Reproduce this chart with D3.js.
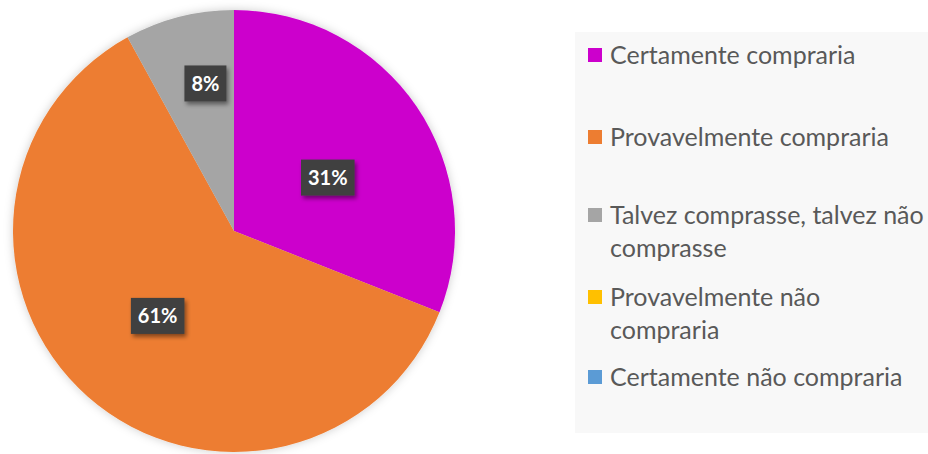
<!DOCTYPE html>
<html>
<head>
<meta charset="utf-8">
<script src="https://cdn.jsdelivr.net/npm/d3@7"></script>
<style>
  body { margin: 0; background: #fff; }
  svg { display: block; }
</style>
</head>
<body>
<div id="chart"></div>
<script>
// data
var categories = ["Certamente compraria", "Provavelmente compraria", "Talvez comprasse, talvez não\ncomprasse", "Provavelmente não\ncompraria", "Certamente não compraria"];
var values = [31, 61, 8, 0, 0];
var colors = ["#cc00cc", "#ed7d31", "#a5a5a5", "#ffc000", "#5b9bd5"];

// chart setup
var svgWidth = 928;
var svgHeight = 454;
var cx = 234, cy = 231, radius = 221;

var svg = d3.select("#chart")
  .append("svg")
  .attr("width", svgWidth)
  .attr("height", svgHeight);

// filters: soft glow round the pie, shadow under the labels
var defs = svg.append("defs");
var glow = defs.append("filter").attr("id", "glow")
  .attr("x", "-10%").attr("y", "-10%").attr("width", "120%").attr("height", "120%");
glow.append("feDropShadow").attr("dx", 0).attr("dy", 0)
  .attr("stdDeviation", 5).attr("flood-color", "#000").attr("flood-opacity", 0.2);
var shadow = defs.append("filter").attr("id", "shadow")
  .attr("x", "-20%").attr("y", "-20%").attr("width", "150%").attr("height", "160%");
shadow.append("feDropShadow").attr("dx", 2).attr("dy", 3)
  .attr("stdDeviation", 2).attr("flood-color", "#000").attr("flood-opacity", 0.45);

var data = categories.map(function(c, i) {
  return { name: c, value: values[i], color: colors[i] };
});

var pie = d3.pie()
  .sort(null)
  .value(function(d) { return d.value; });

var arc = d3.arc().innerRadius(0).outerRadius(radius);

var pieGroup = svg.append("g")
  .attr("transform", "translate(" + cx + "," + cy + ")");

var arcs = pie(data).filter(function(d) { return d.data.value > 0; });

pieGroup.append("g")
  .attr("filter", "url(#glow)")
  .selectAll("path")
  .data(arcs)
  .enter()
  .append("path")
  .attr("d", arc)
  .attr("fill", function(d) { return d.data.color; });

// data labels - small slices get pushed out further
function labelPos(d) {
  var share = (d.endAngle - d.startAngle) / (2 * Math.PI);
  var small = share < 0.15;
  var r = small ? radius * 0.68 : radius * 0.5;
  var a = (d.startAngle + d.endAngle) / 2 + (small ? 0.06 : 0.04);
  return [Math.sin(a) * r, -Math.cos(a) * r + (small ? 0 : 5)];
}

var labels = pieGroup.selectAll(".lbl")
  .data(arcs)
  .enter()
  .append("g")
  .attr("class", "lbl")
  .attr("transform", function(d) { return "translate(" + labelPos(d) + ")"; });

labels.append("text")
  .attr("text-anchor", "middle")
  .attr("dy", "0.36em")
  .attr("fill", "#fff")
  .style("font-family", "Lato, 'Open Sans', sans-serif")
  .style("font-weight", "bold")
  .style("font-size", "20px")
  .text(function(d) { return d.data.value + "%"; });

labels.each(function() {
  var g = d3.select(this);
  var bb = g.select("text").node().getBBox();
  g.insert("rect", "text")
    .attr("x", bb.x - 7)
    .attr("y", -18)
    .attr("width", bb.width + 14)
    .attr("height", 36)
    .attr("fill", "#404040")
    .attr("filter", "url(#shadow)");
});

// legend
svg.append("rect")
  .attr("x", 575)
  .attr("y", 32)
  .attr("width", svgWidth - 575)
  .attr("height", 401)
  .attr("fill", "#f8f8f8");

var legendTop = [55, 137, 215, 297, 377];
var lineHeight = 33;

var legend = svg.selectAll(".legend")
  .data(data)
  .enter()
  .append("g")
  .attr("class", "legend")
  .attr("transform", function(d, i) { return "translate(588," + legendTop[i] + ")"; });

legend.append("rect")
  .attr("x", 0)
  .attr("y", -7)
  .attr("width", 14)
  .attr("height", 14)
  .attr("fill", function(d) { return d.color; });

legend.append("text")
  .attr("fill", "#595959")
  .style("font-family", "Lato, 'Open Sans', sans-serif")
  .style("font-size", "25px")
  .selectAll("tspan")
  .data(function(d) { return d.name.split("\n"); })
  .enter()
  .append("tspan")
  .attr("x", 22)
  .attr("y", function(d, i) { return i * lineHeight; })
  .attr("dy", "0.35em")
  .text(function(d) { return d; });
</script>
</body>
</html>
